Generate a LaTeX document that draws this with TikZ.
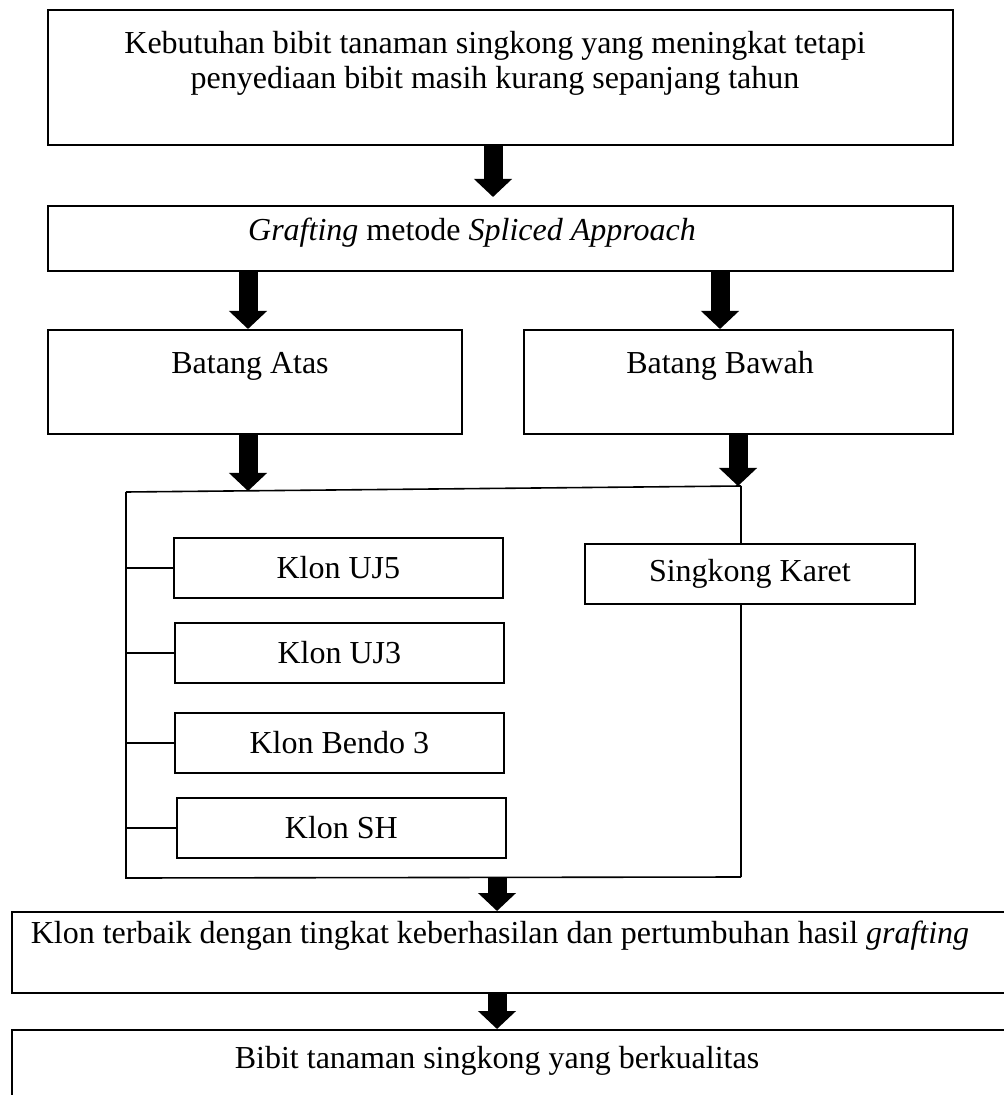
\documentclass[tikz,border=0pt]{standalone}
\usepackage{fontspec}
\setmainfont{Liberation Serif}
\usetikzlibrary{arrows.meta, positioning, calc}

\tikzset{
    every node/.style={font=\fontsize{16}{17.5}\selectfont},
    % Plain box style
    box/.style={
        rectangle,
        draw=black,
        line width=1.1pt,
        inner sep=0pt,
        anchor=north west
    },
    % Clone box style
    clone/.style={
        rectangle,
        draw=black,
        line width=0.9pt,
        minimum width=164.5pt,
        minimum height=30pt,
        inner sep=0pt,
        anchor=north west
    },
    % Box text style
    boxtext/.style={
        inner sep=0pt,
        align=center
    },
    % Fat arrow style
    fatarrow/.style={
        line width=9.5pt,
        -{Triangle[width=18.5pt,length=9pt]}
    },
    % Frame line style
    frameline/.style={
        line width=0.8pt,
        color=black
    }
}

\begin{document}
\begin{tikzpicture}[x=0.5pt, y=-0.5pt]
    \useasboundingbox (0,0) rectangle (1004,1095);

    % Main boxes
    \node[box, minimum width=452.5pt, minimum height=67.5pt] (need) at (47,9) {};
    \node[boxtext] (needtxt) at (495,63) {Kebutuhan bibit tanaman singkong yang meningkat tetapi\\penyediaan bibit masih kurang sepanjang tahun};
    \node[box, minimum width=452.5pt, minimum height=32.5pt] (graft) at (47,205) {};
    \node[boxtext] (grafttxt) at (472,233) {\textit{Grafting} metode \textit{Spliced Approach}};
    \node[box, minimum width=207pt, minimum height=52pt] (atas) at (47,329) {};
    \node[boxtext] (atastxt) at (250,366) {Batang Atas};
    \node[box, minimum width=214.5pt, minimum height=52pt] (bawah) at (523,329) {};
    \node[boxtext] (bawahtxt) at (720,366) {Batang Bawah};

    % Frame round the clones
    \coordinate (fTL) at (126,492);
    \coordinate (fTR) at (741,486);
    \coordinate (fBL) at (126,878);
    \coordinate (fBR) at (741,877);

    \node[clone] (uj5) at (173,537) {Klon UJ5};
    \node[clone] (uj3) at (174,622) {Klon UJ3};
    \node[clone] (bendo) at (174,712) {Klon Bendo 3};
    \node[clone] (sh) at (176,797) {Klon SH};
    \node[clone, minimum width=165pt] (karet) at (584,543) {Singkong Karet};

    \draw[frameline] (fTL) -- (fTR);
    \draw[frameline] (fTL) -- (fBL) -- (fBR);
    \draw[frameline] (fTR) -- (karet.north -| fTR);
    \draw[frameline] (karet.south -| fTR) -- (fBR);
    \foreach \k in {uj5,uj3,bendo,sh}
        \draw[frameline] (\k.west -| fTL) -- (\k.west);

    % Result boxes
    \node[box, minimum width=500pt, minimum height=40.5pt] (best) at (11,911) {};
    \node[boxtext] (besttxt) at (500,936) {Klon terbaik dengan tingkat keberhasilan dan pertumbuhan hasil \textit{grafting}};
    \node[box, minimum width=500pt, minimum height=40pt] (goal) at (11,1029) {};
    \node[boxtext] (goaltxt) at (497,1061) {Bibit tanaman singkong yang berkualitas};

    % Arrows
    \coordinate (inA) at (248,491);
    \coordinate (inB) at (738,486);
    \draw[fatarrow, shorten >=4pt] (need.south -| 493,0) -- (graft.north -| 493,0);
    \draw[fatarrow] (graft.south -| 248,0) -- (atas.north -| 248,0);
    \draw[fatarrow] (graft.south -| 720,0) -- (bawah.north -| 720,0);
    \draw[fatarrow] (atas.south -| inA) -- (inA);
    \draw[fatarrow] (bawah.south -| inB) -- (inB);
    \draw[fatarrow] (fBL -| 497,0) -- (best.north -| 497,0);
    \draw[fatarrow] (best.south -| 497,0) -- (goal.north -| 497,0);
\end{tikzpicture}
\end{document}
